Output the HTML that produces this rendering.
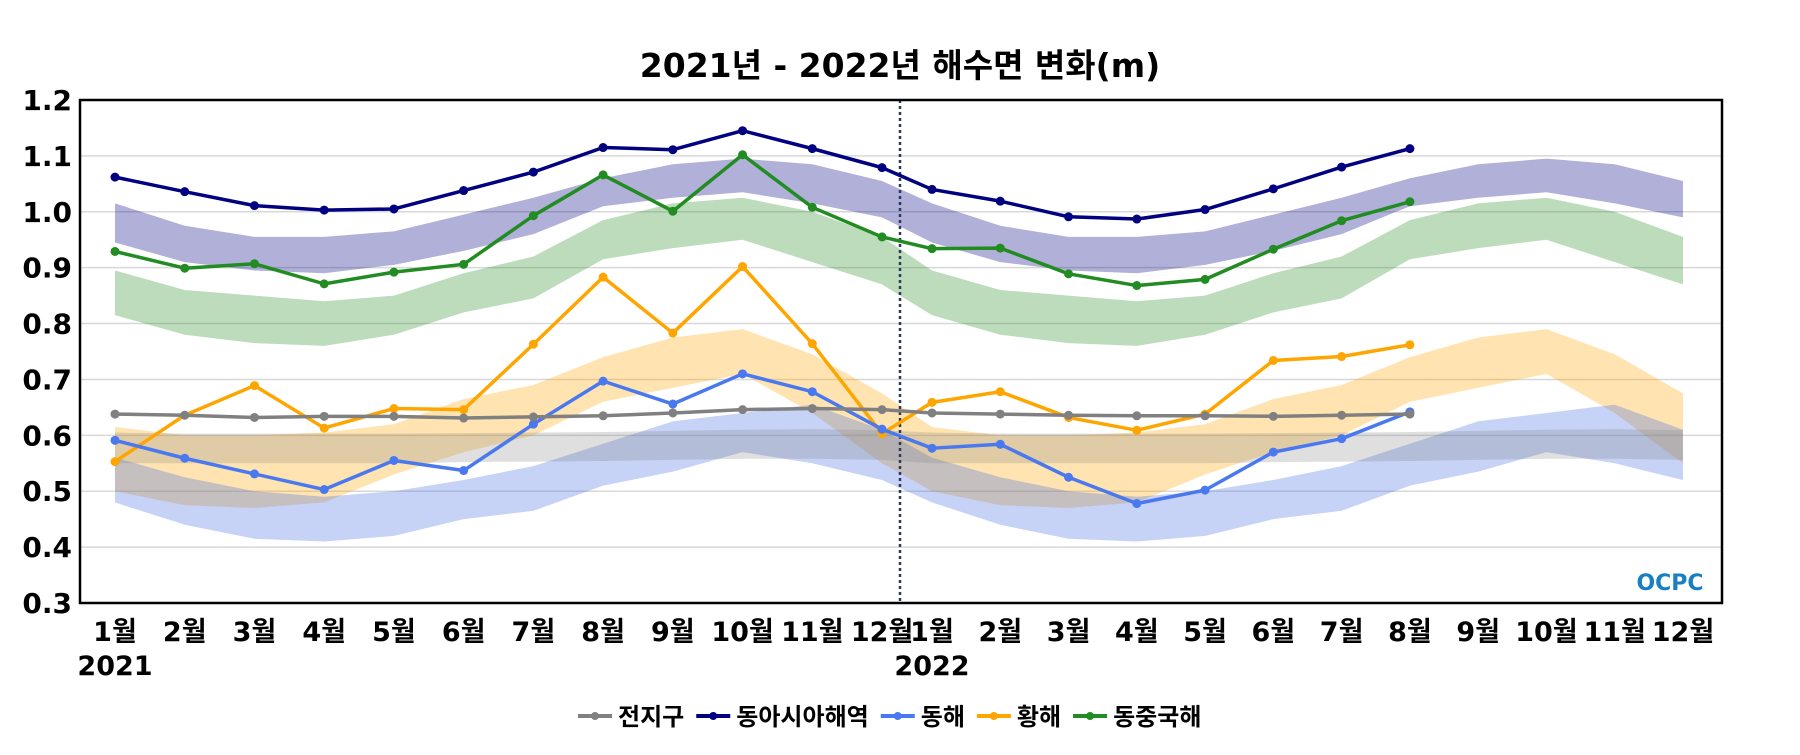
<!DOCTYPE html>
<html><head><meta charset="utf-8"><style>
body{margin:0;background:#fff;}
svg text{font-family:"DejaVu Sans","Noto Sans CJK KR",sans-serif;font-weight:bold;}
</style></head><body>
<svg id="chart" width="1800" height="750" viewBox="0 0 1800 750" xmlns="http://www.w3.org/2000/svg"></svg>
<script>
const months = ["1월","2월","3월","4월","5월","6월","7월","8월","9월","10월","11월","12월","1월","2월","3월","4월","5월","6월","7월","8월","9월","10월","11월","12월"];
const yTicks = [0.3,0.4,0.5,0.6,0.7,0.8,0.9,1.0,1.1,1.2];
const seriesNames = ["전지구","동아시아해역","동해","황해","동중국해"];
const seriesColors = ["#808080","#000080","#4a78ee","#ffa500","#228b22"];
const globalVals = [0.638,0.636,0.632,0.634,0.634,0.631,0.633,0.635,0.640,0.646,0.648,0.646,0.640,0.638,0.636,0.635,0.635,0.634,0.636,0.638];
const eastAsiaVals = [1.062,1.036,1.011,1.003,1.005,1.038,1.071,1.115,1.111,1.145,1.113,1.079,1.040,1.019,0.991,0.987,1.004,1.041,1.080,1.113];
const eastSeaVals = [0.591,0.559,0.531,0.503,0.555,0.537,0.620,0.697,0.656,0.710,0.678,0.611,0.577,0.584,0.525,0.478,0.502,0.570,0.594,0.642];
const yellowSeaVals = [0.553,0.636,0.689,0.613,0.648,0.646,0.763,0.883,0.783,0.902,0.764,0.603,0.659,0.678,0.632,0.609,0.638,0.734,0.741,0.762];
const eastChinaVals = [0.929,0.899,0.907,0.871,0.892,0.906,0.993,1.066,1.001,1.102,1.008,0.955,0.934,0.935,0.889,0.868,0.879,0.933,0.984,1.018];
// climatological bands (12 months, repeated each year)
const globalLo = [0.550,0.550,0.550,0.550,0.550,0.552,0.553,0.554,0.556,0.558,0.558,0.556];
const globalHi = [0.605,0.603,0.603,0.603,0.603,0.604,0.605,0.606,0.608,0.610,0.611,0.609];
const eastAsiaLo = [0.945,0.910,0.895,0.890,0.905,0.930,0.960,1.010,1.025,1.035,1.015,0.990];
const eastAsiaHi = [1.015,0.975,0.955,0.955,0.965,0.995,1.025,1.060,1.085,1.095,1.085,1.055];
const eastSeaLo = [0.480,0.440,0.415,0.410,0.420,0.450,0.465,0.510,0.535,0.570,0.550,0.520];
const eastSeaHi = [0.560,0.525,0.500,0.490,0.500,0.520,0.545,0.585,0.625,0.640,0.655,0.610];
const yellowSeaLo = [0.500,0.475,0.470,0.480,0.530,0.570,0.600,0.660,0.685,0.710,0.640,0.550];
const yellowSeaHi = [0.615,0.600,0.600,0.605,0.620,0.665,0.690,0.740,0.775,0.790,0.745,0.675];
const eastChinaLo = [0.815,0.780,0.765,0.760,0.780,0.820,0.845,0.915,0.935,0.950,0.910,0.870];
const eastChinaHi = [0.895,0.860,0.850,0.840,0.850,0.890,0.920,0.985,1.015,1.025,1.000,0.955];

const NS="http://www.w3.org/2000/svg";
const svg=document.getElementById('chart');
const L=80,R=1722,T=100,B=603,YMIN=0.3,YMAX=1.2;
function xs(i){return i<12?115+69.73*i:932+68.27*(i-12);}
function ys(v){return B-(v-YMIN)/(YMAX-YMIN)*(B-T);}
function el(tag,attrs,parent){const e=document.createElementNS(NS,tag);for(const k in attrs)e.setAttribute(k,attrs[k]);(parent||svg).appendChild(e);return e;}

yTicks.forEach(v=>{
  const g=el('line',{x1:L,x2:R,y1:ys(v),y2:ys(v),stroke:'#d8d8d8','stroke-width':1.5});
  
  
  const t=el('text',{x:L-8,y:ys(v)+10,'text-anchor':'end','font-size':28,fill:'#000'});
  t.textContent=v.toFixed(1);
  
  
});

const bands=[[eastAsiaLo,eastAsiaHi,'rgba(0,0,128,0.31)','band-east-asia'],[eastChinaLo,eastChinaHi,'rgba(34,139,34,0.3)','band-east-china-sea'],[yellowSeaLo,yellowSeaHi,'rgba(255,165,0,0.3)','band-yellow-sea'],[eastSeaLo,eastSeaHi,'rgba(65,105,225,0.3)','band-east-sea'],[globalLo,globalHi,'rgba(128,128,128,0.25)','band-global']];
bands.forEach(b=>{
  let up=[],dn=[];
  for(let i=0;i<24;i++){up.push(xs(i)+','+ys(b[1][i%12]));}
  for(let i=23;i>=0;i--){dn.push(xs(i)+','+ys(b[0][i%12]));}
  const p=el('polygon',{points:up.concat(dn).join(' '),fill:b[2]});
  
  
});

const dv=el('line',{x1:900,x2:900,y1:T,y2:B,stroke:'#2a3a5a','stroke-width':2.5,'stroke-dasharray':'3,3'});



const allVals=[globalVals,eastAsiaVals,eastSeaVals,yellowSeaVals,eastChinaVals];
const sNames=['series-global','series-east-asia','series-east-sea','series-yellow-sea','series-east-china-sea'];
[3,2,0,4,1].forEach(k=>{
  const vals=allVals[k];
  const pts=vals.map((v,i)=>xs(i)+','+ys(v)).join(' ');
  const g=el('g',{});
  
  
  el('polyline',{points:pts,fill:'none',stroke:seriesColors[k],'stroke-width':3.5,'stroke-linejoin':'round'},g);
  vals.forEach((v,i)=>{
    const c=el('circle',{cx:xs(i),cy:ys(v),r:4.5,fill:seriesColors[k]},g);
    
    
  });
});

const fr=el('rect',{x:L,y:T,width:R-L,height:B-T,fill:'none',stroke:'#000','stroke-width':2.5});



months.forEach((m,i)=>{
  const t=el('text',{x:xs(i),y:641,'text-anchor':'middle','font-size':27,fill:'#000'});
  t.textContent=m;
  
  
});
[['2021',xs(0)],['2022',xs(12)]].forEach(y=>{
  const t=el('text',{x:y[1],y:675,'text-anchor':'middle','font-size':27,fill:'#000'});
  t.textContent=y[0];
  
  
});

const tt=el('text',{x:900,y:77,'text-anchor':'middle','font-size':33,fill:'#000'});
tt.textContent='2021년 - 2022년 해수면 변화(m)';



const lg=el('text',{x:1670,y:590,'text-anchor':'middle','font-size':22,fill:'#1a7fc1'});
lg.textContent='OCPC';



let lx=578;
seriesNames.forEach((n,k)=>{
  const g=el('g',{});
  
  
  el('line',{x1:lx,x2:lx+34,y1:716,y2:716,stroke:seriesColors[k],'stroke-width':4},g);
  el('circle',{cx:lx+17,cy:716,r:4,fill:seriesColors[k]},g);
  const t=el('text',{x:lx+40,y:725,'font-size':24,fill:'#000'},g);
  t.textContent=n;
  lx+=40+t.getComputedTextLength()+12;
});
</script>
</body></html>
